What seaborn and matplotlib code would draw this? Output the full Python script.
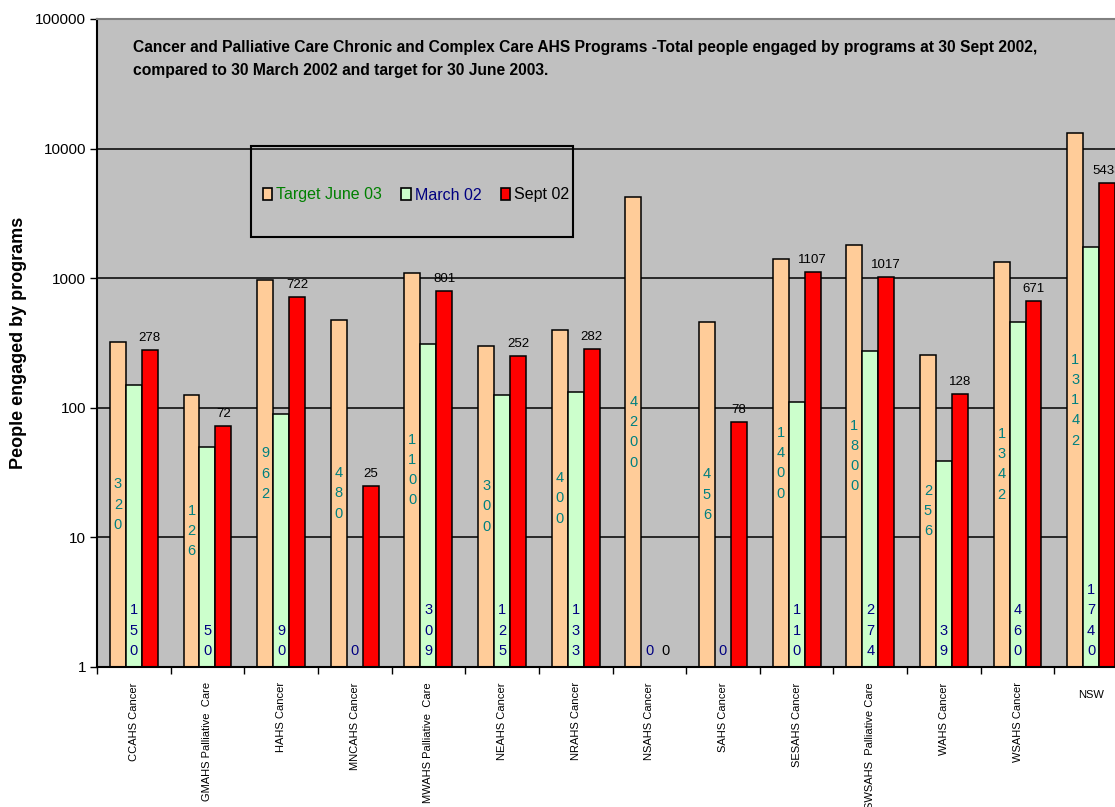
import numpy as np
import pandas as pd
import seaborn as sns
import matplotlib
matplotlib.use("Agg")
import matplotlib.pyplot as plt
import matplotlib.patches as mpatches
from matplotlib.ticker import FixedLocator, NullLocator
from matplotlib.transforms import ScaledTranslation

# ---- data -------------------------------------------------------------
programs = [
    "CCAHS Cancer", "GMAHS Palliative  Care", "HAHS Cancer", "MNCAHS Cancer",
    "MWAHS Palliative  Care", "NEAHS Cancer", "NRAHS Cancer", "NSAHS Cancer",
    "SAHS Cancer", "SESAHS Cancer", "SWSAHS  Palliative Care", "WAHS Cancer",
    "WSAHS Cancer", "NSW",
]
target_june03 = [320, 126, 962, 480, 1100, 300, 400, 4200, 456, 1400, 1800, 256, 1342, 13142]
march02 = [150, 50, 90, 0, 309, 125, 133, 0, 0, 110, 274, 39, 460, 1740]
sept02 = [278, 72, 722, 25, 801, 252, 282, 0, 78, 1107, 1017, 128, 671, 5433]

series_names = ["Target June 03", "March 02", "Sept 02"]
series_colors = ["#FFCC99", "#CCFFCC", "#FF0000"]
legend_text_colors = ["#008000", "#000080", "#000000"]
y_ticks = [1, 10, 100, 1000, 10000, 100000]
y_tick_labels = ["1", "10", "100", "1000", "10000", "100000"]

title = ("Cancer and Palliative Care Chronic and Complex Care AHS Programs -Total people "
         "engaged by programs at 30 Sept 2002,\ncompared to 30 March 2002 and target for 30 June 2003.")

df = pd.DataFrame({
    "program": programs * 3,
    "series": np.repeat(series_names, len(programs)),
    "people": target_june03 + march02 + sept02,
})

# ---- figure -----------------------------------------------------------
plt.rcParams["font.family"] = ["Liberation Sans", "DejaVu Sans"]
W, H = 1115, 807
fig = plt.figure(figsize=(W / 100, H / 100), dpi=100)
fig.patch.set_facecolor("white")
ax = fig.add_axes([97 / W, 140 / H, 1031 / W, 648 / H])
ax.set_facecolor("#C0C0C0")

sns.barplot(
    data=df, x="program", y="people", hue="series",
    order=programs, hue_order=series_names,
    palette=dict(zip(series_names, series_colors)),
    width=0.65, saturation=1, errorbar=None, legend=False,
    edgecolor="black", linewidth=1.1, ax=ax,
)

ax.set_yscale("log")
ax.set_ylim(1, 100000)
ax.set_xlim(-0.5, len(programs) - 0.5)
ax.set_axisbelow(True)
ax.grid(False)
ax.yaxis.grid(True, which="major", color="black", linewidth=1.1)

# y axis
ax.yaxis.set_major_locator(FixedLocator(y_ticks))
ax.yaxis.set_minor_locator(NullLocator())
ax.set_yticklabels(y_tick_labels)
ax.tick_params(axis="y", which="major", length=5, width=1, pad=3,
               labelsize=11, colors="black", direction="out")
ax.set_ylabel("People engaged by programs", fontsize=13, fontweight="bold")
ax.yaxis.set_label_coords(-0.068, 0.5)

# x axis: labels at category centres, tick marks on the boundaries
ax.set_xticks(range(len(programs)))
ax.set_xticklabels(programs, rotation=90, fontsize=8, va="top", ha="center")
ax.set_xticks(np.arange(-0.5, len(programs)), minor=True)
ax.tick_params(axis="x", which="major", length=0, pad=11)
ax.tick_params(axis="x", which="minor", length=5, width=1, color="black", direction="out")
ax.set_xlabel("")
# the short state-wide label stays horizontal, a little lower
nsw_label = ax.get_xticklabels()[-1]
nsw_label.set_rotation(0)
nsw_label.set_transform(nsw_label.get_transform()
                        + ScaledTranslation(0, -8 / 100, fig.dpi_scale_trans))

for side in ("left", "bottom"):
    ax.spines[side].set_color("black")
    ax.spines[side].set_linewidth(1.5)
for side in ("top", "right"):
    ax.spines[side].set_color("#808080")
    ax.spines[side].set_linewidth(1.5)

# ---- value labels -----------------------------------------------------
digit_kw = dict(ha="center", fontsize=10.5, linespacing=1.57)
for cont, values, name in zip(ax.containers, [target_june03, march02, sept02], series_names):
    for patch in cont.patches:
        cx = patch.get_x() + patch.get_width() / 2
        idx = int(np.floor(cx + 0.5))
        v = values[idx]
        if name == "Target June 03":
            ax.text(cx, np.sqrt(v), "\n".join(str(v)), va="center", color="#008080", **digit_kw)
        elif name == "March 02":
            ax.annotate("\n".join(str(v)), xy=(cx, 1), xytext=(0, 9),
                        textcoords="offset pixels", va="bottom", color="#000080", **digit_kw)
        else:
            if v > 0:
                ax.annotate(str(v), xy=(cx, v), xytext=(0, 6), textcoords="offset pixels",
                            ha="center", va="bottom", fontsize=9.5, color="black")
            else:
                ax.annotate(str(v), xy=(cx, 1), xytext=(0, 9), textcoords="offset pixels",
                            ha="center", va="bottom", fontsize=10.5, color="black")

# ---- title ------------------------------------------------------------
fig.text(133 / W, 1 - 40 / H, title, fontsize=11.25, fontweight="bold",
         ha="left", va="top", linespacing=1.68, color="black")

# ---- legend -----------------------------------------------------------
handles = [mpatches.Patch(facecolor=c, edgecolor="black", linewidth=1.2, label=s)
           for s, c in zip(series_names, series_colors)]
leg = ax.legend(handles=handles, loc="center", bbox_to_anchor=(416 / W, 1 - 195 / H),
                bbox_transform=fig.transFigure, ncol=3, frameon=False, fontsize=11.5,
                handlelength=0.6, handleheight=0.7, handletextpad=0.25,
                columnspacing=1.2, borderaxespad=0, borderpad=0)
for txt, col in zip(leg.get_texts(), legend_text_colors):
    txt.set_color(col)
fig.add_artist(mpatches.Rectangle((251 / W, (H - 237) / H), 322 / W, 91 / H,
                                  transform=fig.transFigure, fill=False,
                                  edgecolor="black", linewidth=1.5, zorder=5))

fig.savefig("out.png", dpi=100)
